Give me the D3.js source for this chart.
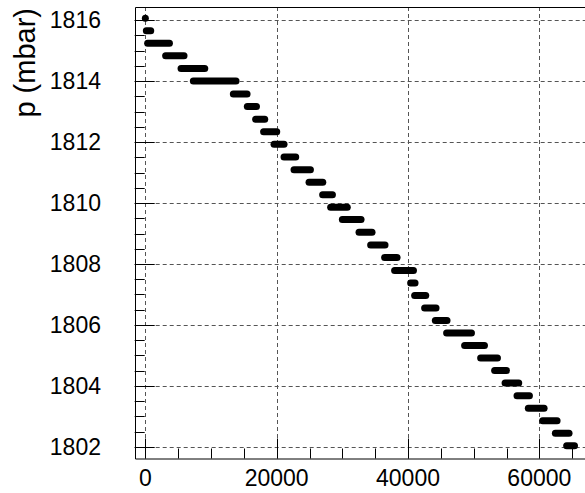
<!DOCTYPE html>
<html>
<head>
<meta charset="utf-8">
<script src="https://cdnjs.cloudflare.com/ajax/libs/d3/7.8.5/d3.min.js"></script>
<style>
  body { margin: 0; background: #fff; }
  svg { display: block; }
  .tickLabel { font-family: "Liberation Sans", Arial, sans-serif; font-size: 23px; fill: #000; }
  .axisTitle { font-family: "Liberation Sans", Arial, sans-serif; font-size: 29px; fill: #000; }
  .grid { stroke: #555; stroke-width: 1; stroke-dasharray: 4,3; fill: none; }
  .frame { stroke: #000; stroke-width: 1; fill: none; }
  .level { stroke: #000; stroke-width: 7; stroke-linecap: round; }
</style>
</head>
<body>
<div id="chart"></div>
<script>
    "use strict";

    // pressure readings, one quantized level per run: start time, end time, pressure
    var runStart = [0, 150, 350, 3090, 5440, 7310, 13400, 15530, 16800, 18010,
        19600, 21120, 22640, 24930, 27000, 28220, 30000, 32540, 34310, 36440,
        37960, 40400, 41010, 42530, 44160, 45880, 48620, 51060, 53190, 54780,
        56600, 58320, 60500, 62440, 64160];
    var runEnd = [0, 820, 3670, 5890, 9050, 13810, 15490, 16920, 18180, 20010,
        21120, 22900, 25140, 27020, 28490, 30750, 32850, 34520, 36500, 38330,
        40830, 41070, 42700, 44270, 45940, 49660, 51640, 53620, 54990, 56860,
        58490, 60720, 62700, 64520, 65350];
    var runP = [1816.06, 1815.65, 1815.24, 1814.83, 1814.41, 1814.00, 1813.58, 1813.17, 1812.75, 1812.34,
        1811.93, 1811.51, 1811.09, 1810.68, 1810.27, 1809.86, 1809.46, 1809.04, 1808.62, 1808.21,
        1807.79, 1807.38, 1806.97, 1806.56, 1806.15, 1805.74, 1805.33, 1804.92, 1804.51, 1804.10,
        1803.68, 1803.27, 1802.86, 1802.45, 1802.04];

    var xTicks = [0, 20000, 40000, 60000];
    var yTicks = [1802, 1804, 1806, 1808, 1810, 1812, 1814, 1816];

    (function () {
        var width = 585;
        var height = 493;
        var marginLeft = 134.7, plotRight = 588.6, plotTop = 7, plotBottom = 458.5;

        var x = d3.scaleLinear().domain([-1620, 67500]).range([marginLeft, plotRight]);
        var y = d3.scaleLinear().domain([1801.62, 1816.43]).range([plotBottom, plotTop]);

        var svg = d3.select("#chart").append("svg")
            .attr("width", width)
            .attr("height", height);

        // dashed grid
        var grid = svg.append("g").attr("class", "gridWrapper");
        grid.selectAll(".gx").data(xTicks).enter().append("line")
            .attr("class", "grid")
            .attr("x1", function (d) { return Math.round(x(d)) + 0.5; })
            .attr("x2", function (d) { return Math.round(x(d)) + 0.5; })
            .attr("y1", plotTop).attr("y2", plotBottom);
        grid.selectAll(".gy").data(yTicks).enter().append("line")
            .attr("class", "grid")
            .attr("x1", marginLeft).attr("x2", width)
            .attr("y1", function (d) { return Math.round(y(d)) + 0.5; })
            .attr("y2", function (d) { return Math.round(y(d)) + 0.5; });

        // tick marks (major 20px, minor 10px)
        var ticks = svg.append("g");
        var yMinor = d3.range(1802, 1816.01, 0.5);
        ticks.selectAll(".ty").data(yMinor).enter().append("line")
            .attr("class", "frame")
            .attr("x1", marginLeft)
            .attr("x2", function (d) { return marginLeft + (Math.abs(d % 2) < 1e-6 ? 20 : 10); })
            .attr("y1", function (d) { return Math.round(y(d)) + 0.5; })
            .attr("y2", function (d) { return Math.round(y(d)) + 0.5; });
        var xMinor = d3.range(0, 65001, 5000);
        ticks.selectAll(".tx").data(xMinor).enter().append("line")
            .attr("class", "frame")
            .attr("x1", function (d) { return Math.round(x(d)) + 0.5; })
            .attr("x2", function (d) { return Math.round(x(d)) + 0.5; })
            .attr("y1", plotBottom)
            .attr("y2", function (d) { return plotBottom - (d % 20000 === 0 ? 20 : 10); });

        // frame
        svg.append("path")
            .attr("class", "frame")
            .attr("d", "M" + width + "," + (plotTop + 0.5) + "H" + (Math.round(marginLeft) + 0.5) +
                "V" + (plotBottom + 0.5) + "H" + width);

        // data runs
        var runs = runP.map(function (p, i) { return { t0: runStart[i], t1: runEnd[i], p: p }; });
        svg.append("g").selectAll(".level").data(runs).enter().append("line")
            .attr("class", "level")
            .attr("x1", function (d) { return x(d.t0); })
            .attr("x2", function (d) { return x(d.t1); })
            .attr("y1", function (d) { return y(d.p); })
            .attr("y2", function (d) { return y(d.p); });

        // tick labels
        svg.selectAll(".ylab").data(yTicks).enter().append("text")
            .attr("class", "tickLabel")
            .attr("text-anchor", "end")
            .attr("x", 101)
            .attr("y", function (d) { return y(d) + 8; })
            .text(function (d) { return d; });
        svg.selectAll(".xlab").data(xTicks).enter().append("text")
            .attr("class", "tickLabel")
            .attr("text-anchor", "middle")
            .attr("x", function (d) { return x(d); })
            .attr("y", 486)
            .text(function (d) { return d; });

        // axis title
        svg.append("text")
            .attr("class", "axisTitle")
            .attr("text-anchor", "end")
            .attr("transform", "translate(35,8) rotate(-90)")
            .text("p (mbar)");
    })();
</script>
</body>
</html>
